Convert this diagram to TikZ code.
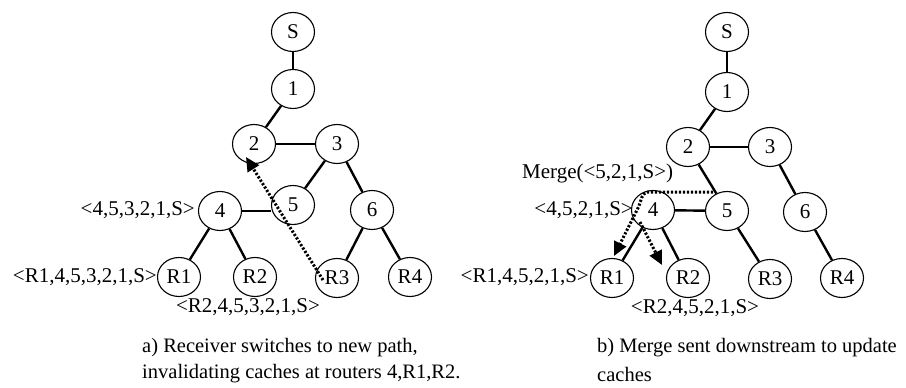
\documentclass[tikz,border=0pt]{standalone}
\usepackage{fontspec}
\setmainfont{Liberation Serif}
\usetikzlibrary{shapes.geometric,arrows.meta}
\begin{document}
\begin{tikzpicture}[x=1pt,y=-1pt,
  router/.style={ellipse,draw,line width=1.1pt,minimum width=43pt,minimum height=39pt,inner sep=0pt,font=\fontsize{21}{23}\selectfont},
  link/.style={line width=2.4pt},
  msg/.style={line width=3pt,dash pattern=on 2.2pt off 1.8pt},
  tipend/.style={-{Triangle[length=14pt,width=13pt]}},
  lbl/.style={inner sep=0pt,font=\fontsize{21}{23}\selectfont},
  captext/.style={inner sep=0pt,anchor=west,font=\fontsize{20.5}{23}\selectfont}]
\useasboundingbox (0,0) rectangle (906,388);
% ---- left tree
\node[router] (aS) at (293,32) {S};
\node[router] (a1) at (293,89) {1};
\node[router] (a2) at (254,144) {2};
\node[router] (a3) at (337,144) {3};
\node[router] (a4) at (220,211) {4};
\node[router] (a5) at (293,205) {5};
\node[router] (a6) at (372,210) {6};
\node[router] (aR1) at (179,277) {R1};
\node[router] (aR2) at (255,277) {R2};
\node[router] (aR3) at (337,278) {R3};
\node[router] (aR4) at (410,277) {R4};
\draw[link] (aS) -- (a1);
\draw[link] (a1) -- (a2);
\draw[link] (a2) -- (a3);
\draw[link] (a3) -- (a5);
\draw[link] (a3) -- (a6);
\draw[link] (a4.east) -- (a4.east -| a5.west);
\draw[link] (a4) -- (aR1);
\draw[link] (a4) -- (aR2);
\draw[link] (a6) -- (aR3);
\draw[link] (a6) -- (aR4);
\coordinate (aStart) at (323,280);
\coordinate (aEnd) at (246,157);
\draw[msg,tipend] (aStart) -- (aEnd);
\node[lbl,anchor=east] (la4) at (195,210) {<4,5,3,2,1,S>};
\node[lbl,anchor=east] (laR1) at (157,277) {<R1,4,5,3,2,1,S>};
\node[lbl] (laR2) at (248,307) {<R2,4,5,3,2,1,S>};
\node[captext] (capa1) at (142,348) {a) Receiver switches to new path,};
\node[captext] (capa2) at (142,374) {invalidating caches at routers 4,R1,R2.};
% ---- right tree
\node[router] (bS) at (727,32) {S};
\node[router] (b1) at (727,92) {1};
\node[router] (b2) at (688,147) {2};
\node[router] (b3) at (770,147) {3};
\node[router] (b4) at (653,210) {4};
\node[router] (b5) at (727,211) {5};
\node[router] (b6) at (805,212) {6};
\node[router] (bR1) at (612,278) {R1};
\node[router] (bR2) at (688,278) {R2};
\node[router] (bR3) at (770,279) {R3};
\node[router] (bR4) at (842,278) {R4};
\draw[link] (bS) -- (b1);
\draw[link] (b1) -- (b2);
\draw[link] (b2) -- (b3);
\draw[link] (b2) -- (b5);
\draw[link] (b3) -- (b6);
\draw[link] (b4) -- (b5);
\draw[link] (b4) -- (bR1);
\draw[link] (b4) -- (bR2);
\draw[link] (b5) -- (bR3);
\draw[link] (b6) -- (bR4);
\coordinate (m1) at (713,192);
\coordinate (m2) at (648,192);
\coordinate (m3) at (639,206);
\coordinate (m4) at (614,256);
\coordinate (m5) at (640,222);
\coordinate (m6) at (662,265);
\draw[msg,tipend] (m1) -- (m2) to[out=190,in=70] (m3) -- (m4);
\draw[msg,tipend] (m5) -- (m6);
\node[lbl,anchor=west] (lmerge) at (522,173) {Merge(<5,2,1,S>)};
\node[lbl,anchor=east] (lb4) at (633,210) {<4,5,2,1,S>};
\node[lbl,anchor=east] (lbR1) at (589,277) {<R1,4,5,2,1,S>};
\node[lbl] (lbR2) at (695,308) {<R2,4,5,2,1,S>};
\node[captext] (capb1) at (597,348) {b) Merge sent downstream to update};
\node[captext] (capb2) at (597,374) {caches};
\end{tikzpicture}
\end{document}
